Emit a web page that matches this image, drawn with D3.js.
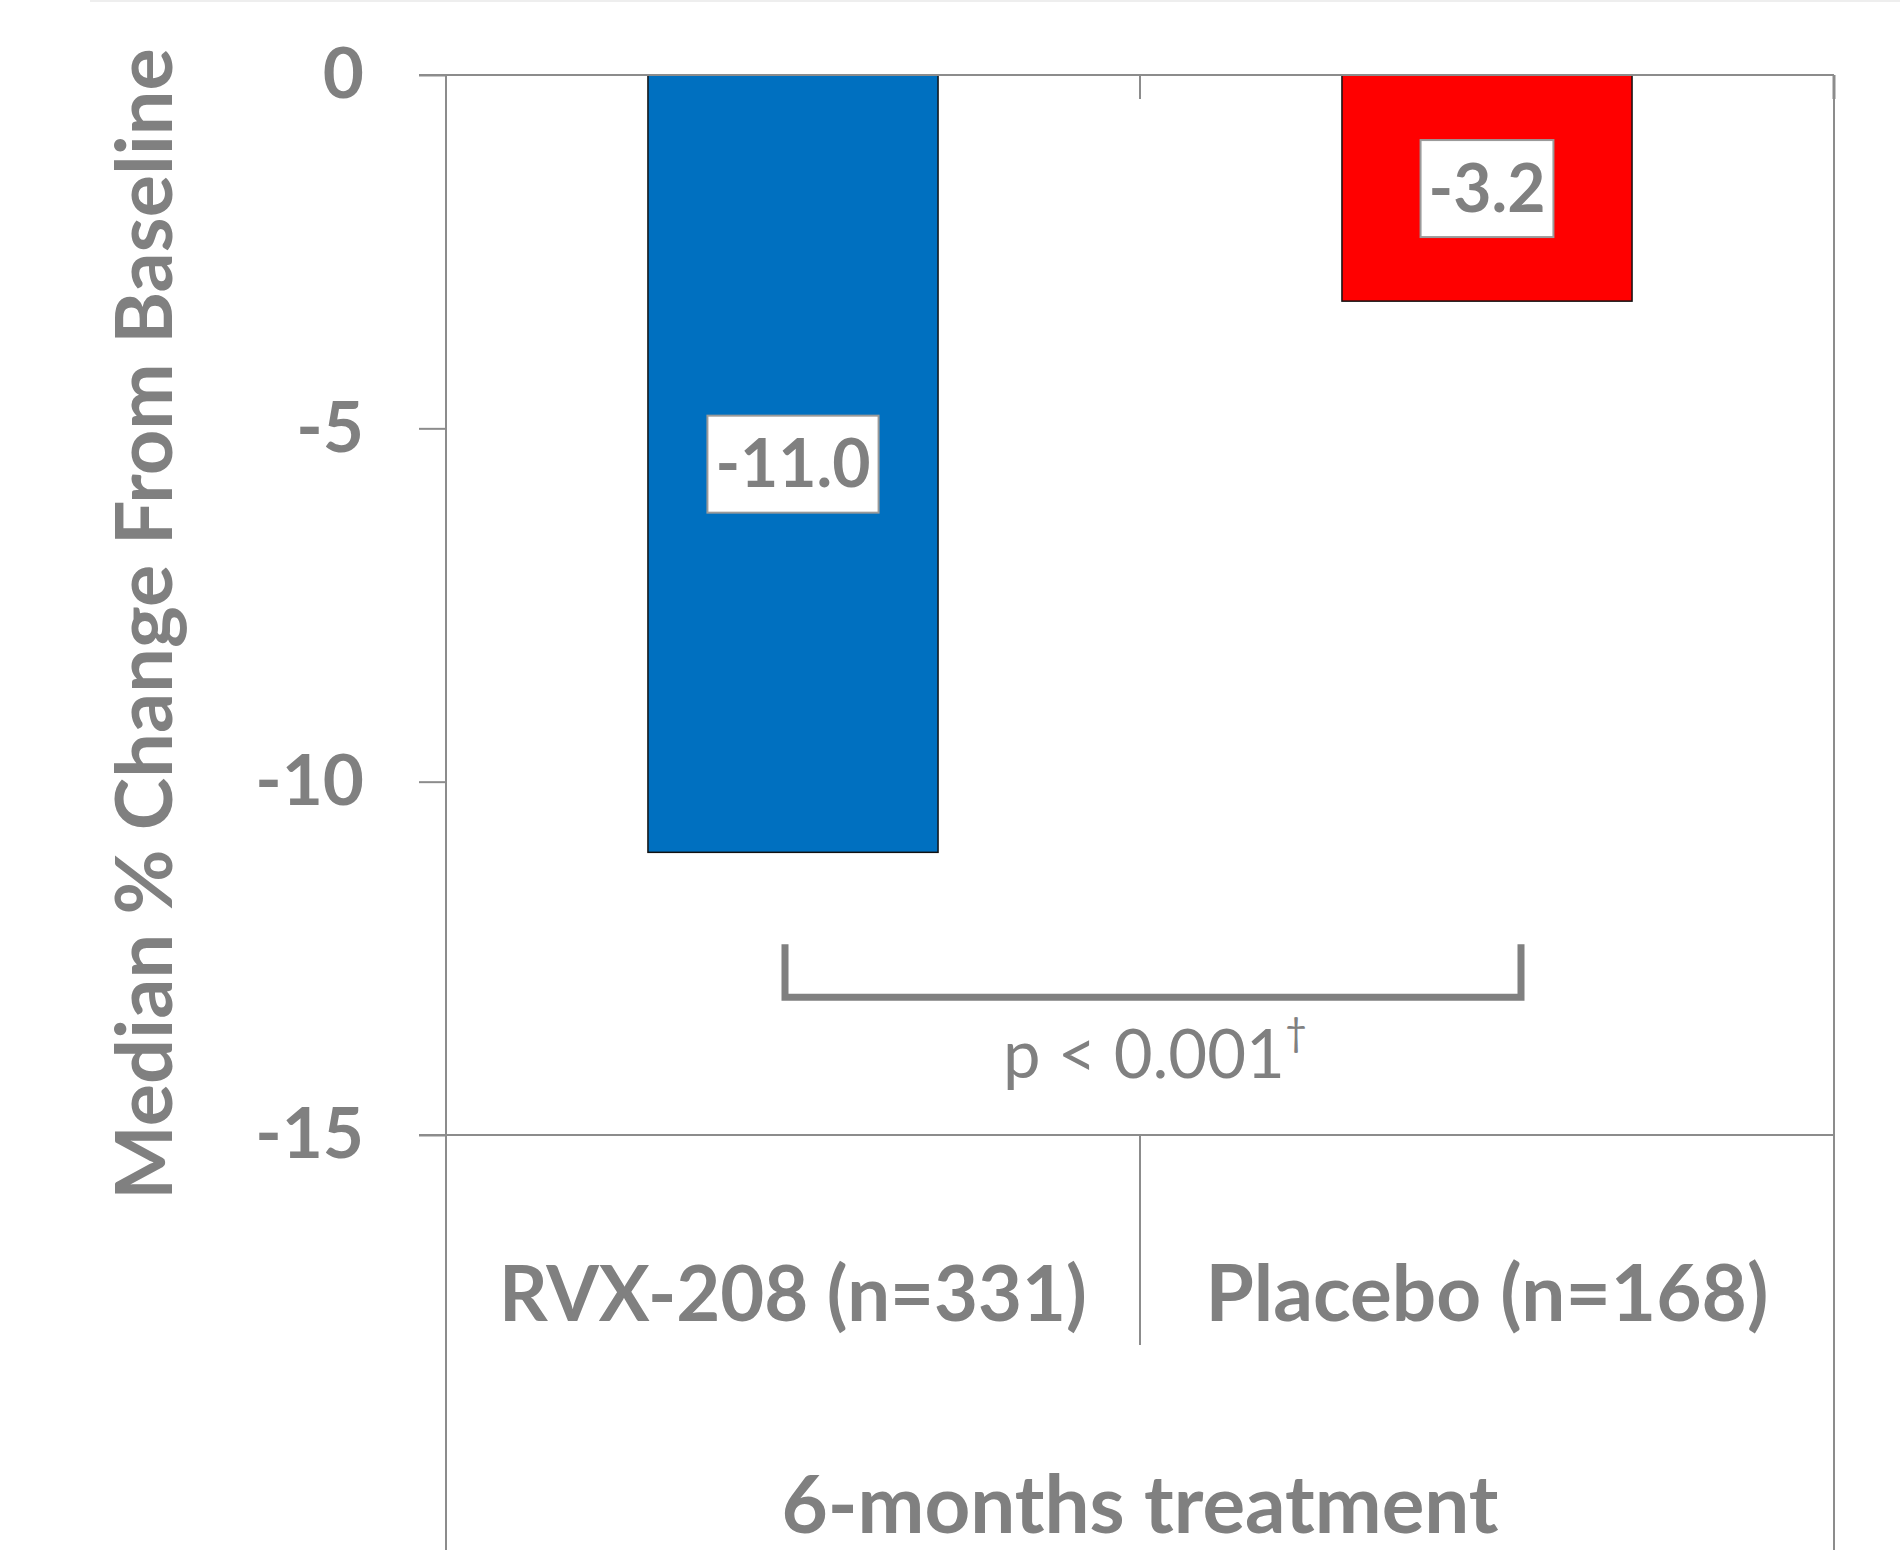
<!DOCTYPE html>
<html><head><meta charset="utf-8">
<script src="https://cdn.jsdelivr.net/npm/d3@7"></script>
<style>
html,body{margin:0;padding:0;background:#fff;}
svg{display:block;}
text{font-family:Lato,"Open Sans",sans-serif;}
</style></head>
<body>
<svg id="chart" width="1900" height="1550"></svg>
<script>
const categories = ["RVX-208 (n=331)", "Placebo (n=168)"];
const values = [-11.0, -3.2];
const valueLabels = ["-11.0", "-3.2"];
const barColors = ["#0070C0", "#FF0000"];
const yTicks = [0, -5, -10, -15];
const groupLabel = "6-months treatment";
const yTitle = "Median % Change From Baseline";
const pText = "p < 0.001";
const pSup = "†";

(function () {
const W = 1900, H = 1550;
const pLeft = 446, pRight = 1834, pTop = 75, pBottom = 1135;
const gray = "#808080", axisGray = "#8c8c8c";

const svg = d3.select("#chart");

// faint top border line
svg.append("line").attr("x1", 90).attr("x2", W).attr("y1", 1).attr("y2", 1)
  .attr("stroke", "#eeeeee").attr("stroke-width", 2);

const y = d3.scaleLinear().domain([-15, 0]).range([pBottom, pTop]);
const x = d3.scaleBand().domain(categories).range([pLeft, pRight])
  .paddingInner(0.582).paddingOuter(0.291);
const xGroup = d3.scaleBand().domain(categories).range([pLeft, pRight]);

function fit(sel, target) {
  const n = sel.node();
  const fs = parseFloat(sel.attr("font-size"));
  const w = n.getComputedTextLength();
  if (w > 0) sel.attr("font-size", (fs * target / w).toFixed(2));
}

// bars
svg.append("g").selectAll("rect").data(values).join("rect")
  .attr("x", (d, i) => x(categories[i]))
  .attr("y", d => y(Math.max(0, d)))
  .attr("width", x.bandwidth())
  .attr("height", d => Math.abs(y(d) - y(0)))
  .attr("fill", (d, i) => barColors[i])
  .attr("stroke", "#111")
  .attr("stroke-width", 1.5);

// y axis
const yAxis = d3.axisLeft(y).tickValues(yTicks).tickSize(27).tickSizeOuter(0).tickPadding(55);
const gy = svg.append("g").attr("transform", `translate(${pLeft},0)`).call(yAxis);
gy.select(".domain").remove();
gy.selectAll(".tick line").attr("stroke", axisGray).attr("stroke-width", 2);
gy.selectAll(".tick text").attr("fill", gray).attr("font-size", 71)
  .attr("font-weight", 700).attr("font-family", "Lato, sans-serif")
  .text(d => String(d));

// frame lines
const frame = svg.append("g").attr("stroke", axisGray).attr("stroke-width", 2).attr("fill", "none");
frame.append("line").attr("x1", pLeft).attr("x2", pLeft).attr("y1", y(0)).attr("y2", H);
frame.append("line").attr("x1", pRight).attr("x2", pRight).attr("y1", y(0)).attr("y2", H);
frame.append("line").attr("x1", pLeft - 27).attr("x2", pRight).attr("y1", y(0)).attr("y2", y(0));
frame.append("line").attr("x1", pLeft - 27).attr("x2", pRight).attr("y1", y(-15)).attr("y2", y(-15));
const sepX = xGroup(categories[1]);
frame.append("line").attr("x1", sepX).attr("x2", sepX).attr("y1", y(0)).attr("y2", y(0) + 24);
frame.append("line").attr("x1", sepX).attr("x2", sepX).attr("y1", y(-15)).attr("y2", 1345);
frame.append("line").attr("x1", pRight).attr("x2", pRight).attr("y1", y(0)).attr("y2", y(0) + 24).attr("stroke-width", 3);

// value labels with boxes
const lab = svg.append("g");
values.forEach((v, i) => {
  const cx = x(categories[i]) + x.bandwidth() / 2;
  const cy = (y(0) + y(v)) / 2;
  const g = lab.append("g");
  const t = g.append("text").attr("x", cx).attr("y", cy).attr("text-anchor", "middle")
    .attr("dy", "0.36em").attr("font-size", 66).attr("font-weight", 700).attr("fill", gray)
    .text(valueLabels[i]);
  const w = t.node().getComputedTextLength();
  g.insert("rect", "text").attr("x", cx - w / 2 - 8).attr("y", cy - 48)
    .attr("width", w + 16).attr("height", 97)
    .attr("fill", "#fff").attr("stroke", "#9a9a9a").attr("stroke-width", 2);
});

// significance bracket
const bx1 = 785, bx2 = 1521;
const bTop = y(-12.3), bBot = y(-13.05);
svg.append("path")
  .attr("d", `M${bx1},${bTop} V${bBot} H${bx2} V${bTop}`)
  .attr("fill", "none").attr("stroke", gray).attr("stroke-width", 7);
const pt = svg.append("text").attr("x", (bx1 + bx2) / 2 + 2).attr("y", 1078)
  .attr("text-anchor", "middle").attr("font-size", 67).attr("fill", gray);
pt.append("tspan").text(pText);
pt.append("tspan").attr("font-size", 38).attr("dy", -32).text(pSup);

// category labels
categories.forEach((c, i) => {
  const cx = xGroup(c) + xGroup.bandwidth() / 2;
  const t = svg.append("text").attr("x", cx).attr("y", 1321).attr("text-anchor", "middle")
    .attr("font-size", 72).attr("font-weight", 700).attr("fill", gray).text(c);
  fit(t, i === 0 ? 588 : 563);
});

// group label
const gl = svg.append("text").attr("x", (pLeft + pRight) / 2).attr("y", 1533).attr("text-anchor", "middle")
  .attr("font-size", 72).attr("font-weight", 700).attr("fill", gray).text(groupLabel);
fit(gl, 717);

// y title
const yt = svg.append("text").attr("transform", "translate(172,624) rotate(-90)")
  .attr("text-anchor", "middle").attr("font-size", 80).attr("font-weight", 700)
  .attr("fill", gray).text(yTitle);
fit(yt, 1152);
})();
</script>
</body></html>
